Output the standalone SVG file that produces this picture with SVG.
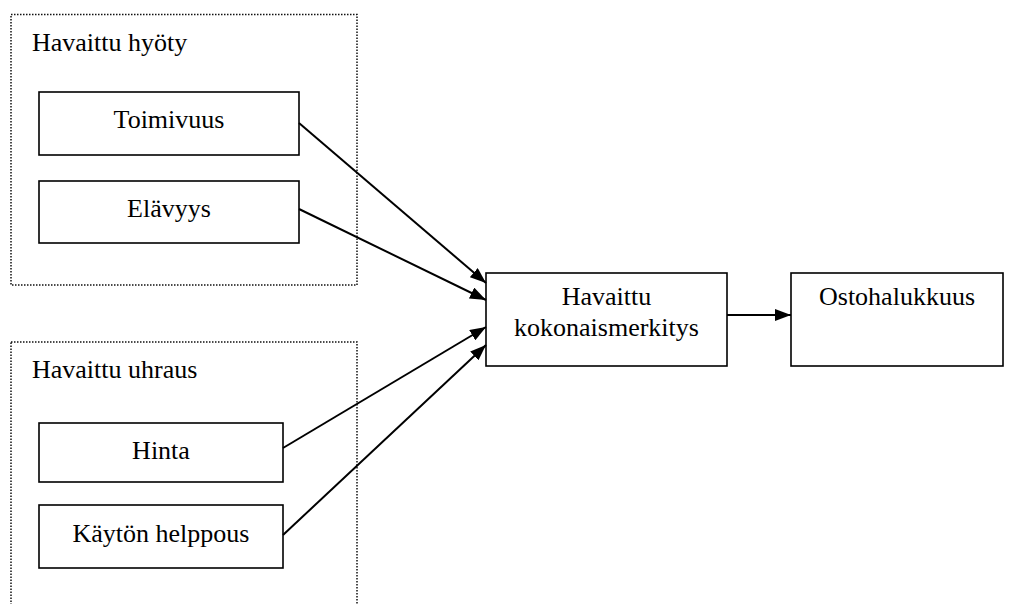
<svg xmlns="http://www.w3.org/2000/svg" width="1022" height="604" viewBox="0 0 1022 604">
<style>
.grp{fill:none;stroke:#111;stroke-width:1.5;stroke-dasharray:1.5 1.5}
.box{fill:#fff;stroke:#000;stroke-width:1.6}
.t{font-family:"Liberation Serif","Times New Roman",serif;font-size:26px;fill:#000}
.c{text-anchor:middle}
.ln{stroke:#000;stroke-width:2;fill:none;marker-end:url(#ah)}
</style>
<defs>
<marker id="ah" viewBox="0 0 10 10" refX="10" refY="5" markerWidth="16" markerHeight="12" markerUnits="userSpaceOnUse" orient="auto" preserveAspectRatio="none">
<path d="M0,0 L10,5 L0,10 z" fill="#000"/>
</marker>
</defs>
<rect width="1022" height="604" fill="#fff"/>
<g id="group-hyoty">
<rect class="grp" x="11" y="14.5" width="346" height="270.5"/>
<text class="t" x="32" y="51">Havaittu hyöty</text>
</g>
<g id="group-uhraus">
<rect class="grp" x="11" y="342" width="346" height="270"/>
<text class="t" x="32" y="378">Havaittu uhraus</text>
</g>
<g id="node-toimivuus">
<rect class="box" x="39" y="92" width="260" height="63"/>
<text class="t c" x="169" y="128">Toimivuus</text>
</g>
<g id="node-elavyys">
<rect class="box" x="39" y="181" width="260" height="62"/>
<text class="t c" x="169" y="217">Elävyys</text>
</g>
<g id="node-hinta">
<rect class="box" x="39" y="423" width="244" height="59"/>
<text class="t c" x="161" y="459">Hinta</text>
</g>
<g id="node-kaytto">
<rect class="box" x="39" y="505" width="244" height="63"/>
<text class="t c" x="161" y="542">Käytön helppous</text>
</g>
<g id="node-kokonais">
<rect class="box" x="486" y="273" width="241" height="93"/>
<text class="t c" x="606.5" y="305">Havaittu</text>
<text class="t c" x="606.5" y="336">kokonaismerkitys</text>
</g>
<g id="node-osto">
<rect class="box" x="791" y="273" width="212" height="93"/>
<text class="t c" x="897" y="305">Ostohalukkuus</text>
</g>
<g id="connectors">
<line class="ln" x1="299" y1="123" x2="486" y2="283"/>
<line class="ln" x1="299" y1="209" x2="486" y2="300"/>
<line class="ln" x1="283" y1="448" x2="486" y2="327"/>
<line class="ln" x1="283" y1="535" x2="486" y2="345"/>
<line class="ln" x1="727" y1="315" x2="791" y2="315"/>
</g>
</svg>
